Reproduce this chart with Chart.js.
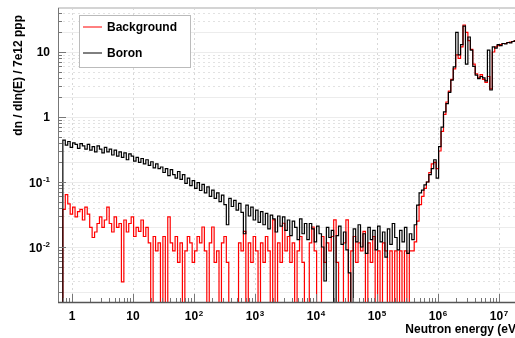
<!DOCTYPE html>
<html><head><meta charset="utf-8">
<script src="https://cdn.jsdelivr.net/npm/chart.js@4/dist/chart.umd.min.js"></script>
<style>html,body{margin:0;padding:0;overflow:hidden;background:#fff}canvas{display:block}</style>
</head><body>
<canvas id="c" width="525" height="338"></canvas>
<script>
// Histogram binning (log10 of neutron energy in eV), 25 bins per decade
const binLogStart = -0.15;
const binLogWidth = 0.04;

const seriesNames = ['Background', 'Boron'];
const seriesColors = ['#ff0000', '#000000'];

// dn/dln(E) per bin, Background (red)
const background = [
  0.038, 0.064, 0.046, 0.032, 0.041, 0.029, 0.035, 0.038, 0.026, 0.041,
  0.032, 0.020, 0.014, 0.017, 0.023, 0.029, 0.020, 0.026, 0.041, 0.023,
  0.017, 0.029, 0.020, 0.023, 0.0029, 0.026, 0.017, 0.023, 0.029, 0.0145,
  0.020, 0.0174, 0.026, 0.0145, 0.020, 0.0116, 0, 0.0145, 0.0087, 0.0116,
  0, 0.0145, 0, 0.029, 0.0116, 0.0087, 0.0145, 0.0058, 0.0116, 0,
  0.0087, 0.0145, 0.0116, 0.0058, 0.0087, 0.0145, 0.0116, 0.0203, 0.0087, 0,
  0.0116, 0.0203, 0.0058, 0.0087, 0, 0.0116, 0.0145, 0.0058, 0, 0,
  0, 0, 0.0116, 0.0087, 0.0174, 0, 0.0116, 0.0058, 0.0145, 0.0087,
  0, 0.0116, 0.0058, 0.0145, 0.0087, 0, 0.0261, 0, 0.0116, 0.0058,
  0.0232, 0.0087, 0.0145, 0.0058, 0.0116, 0, 0.0087, 0.0145, 0.0058, 0,
  0, 0.0116, 0.0203, 0.0087, 0, 0, 0.0145, 0.0058, 0.0116, 0.0087,
  0.0145, 0.0261, 0.0058, 0, 0, 0.0116, 0.0261, 0, 0.0087, 0.0145,
  0.0058, 0.0116, 0.0087, 0.0174, 0, 0.0116, 0.0058, 0.0145, 0, 0.0087,
  0, 0.0116, 0.0087, 0, 0.0087, 0, 0.0087, 0, 0.0087, 0,
  0.0087, 0, 0.0087, 0.0087,
  0.012, 0.025, 0.045, 0.06, 0.08, 0.10, 0.14, 0.19, 0.20, 0.16,
  0.30, 0.60, 1.1, 1.7, 2.5, 3.8, 5.5, 9, 8, 12,
  26, 20, 15, 11, 6.5, 4.6, 4.0, 4.5, 3.8, 3.4,
  4.2, 2.7, 10, 12, 12.5, 13, 13.5, 13.5, 14, 14.2,
  14.5, 15, 14.8, 15.2
];

// dn/dln(E) per bin, Boron (black)
const boron = [
  0.44, 0.37, 0.42, 0.34, 0.40, 0.38, 0.33, 0.39, 0.36, 0.32,
  0.38, 0.31, 0.35, 0.29, 0.36, 0.32, 0.28, 0.34, 0.29, 0.32,
  0.26, 0.31, 0.25, 0.29, 0.24, 0.28, 0.22, 0.27, 0.25, 0.21,
  0.24, 0.20, 0.23, 0.19, 0.22, 0.18, 0.205, 0.165, 0.19, 0.16,
  0.17, 0.14, 0.16, 0.125, 0.155, 0.13, 0.115, 0.145, 0.11, 0.13,
  0.095, 0.115, 0.088, 0.105, 0.08, 0.098, 0.074, 0.092, 0.068, 0.084,
  0.060, 0.075, 0.056, 0.068, 0.050, 0.063, 0.045, 0.022, 0.056, 0.042,
  0.052, 0.037, 0.047, 0.034, 0.016, 0.044, 0.030, 0.041, 0.026, 0.037,
  0.024, 0.035, 0.022, 0.033, 0.019, 0.031, 0.027, 0.017, 0.030, 0.021,
  0.029, 0.018, 0.026, 0.015, 0.025, 0.020, 0.013, 0.027, 0.016, 0.023,
  0.013, 0.023, 0.019, 0.012, 0.021, 0.016, 0.010, 0.003, 0.020, 0.014,
  0.018, 0, 0.015, 0.021, 0.011, 0.017, 0.009, 0.004, 0, 0.019,
  0.012, 0.022, 0.010, 0.016, 0.008, 0.020, 0.013, 0.018, 0.009, 0.021,
  0.012, 0.017, 0.007, 0.019, 0.011, 0.023, 0.014, 0.009, 0.018, 0.012,
  0.020, 0.008, 0.016, 0.013,
  0.022, 0.044, 0.068, 0.075, 0.090, 0.10, 0.13, 0.16, 0.22, 0.115,
  0.35, 0.7, 1.2, 1.6, 2.4, 3.7, 5.9, 20, 9, 13,
  25, 6.5, 17, 10.7, 6, 4.4, 3.9, 4.2, 4.0, 3.6,
  10.7, 2.6, 12, 11.5, 13, 12.5, 13.5, 13.3, 14, 13.8,
  14.5, 14.8, 15, 15
];

const xTickValues = [1, 10, 100, 1e3, 1e4, 1e5, 1e6, 1e7];
const xTickLabels = [['1',''],['10',''],['10','2'],['10','3'],['10','4'],['10','5'],['10','6'],['10','7']];
const yTickValues = [0.01, 0.1, 1, 10];
const yTickLabels = [['10','-2'],['10','-1'],['1',''],['10','']];
const xTitle = 'Neutron energy (eV)';
const yTitle = 'dn / dln(E) / 7e12 ppp';
const xRange = [0.5895, 2.21e7];
const yRange = [0.001425, 47.5];

const FONT = '"Liberation Sans", Arial, Helvetica, sans-serif';
const EMPTY = 1e-6; // empty bins are drawn down to the floor of the log axis

function histPoints(vals) {
  const pts = [{x: Math.pow(10, binLogStart), y: EMPTY}];
  vals.forEach((v, i) => pts.push({x: Math.pow(10, binLogStart + i * binLogWidth), y: v > 0 ? v : EMPTY}));
  const last = vals[vals.length - 1];
  pts.push({x: Math.pow(10, binLogStart + vals.length * binLogWidth), y: last > 0 ? last : EMPTY});
  return pts;
}

function logTickValues(min, max) {
  const out = [];
  for (let e = Math.floor(Math.log10(min)); e <= Math.ceil(Math.log10(max)); e++) {
    for (let m = 1; m <= 9; m++) {
      const v = m * Math.pow(10, e);
      if (v >= min && v <= max) out.push({v, m, major: m === 1});
    }
  }
  return out;
}

const rootStyle = {
  id: 'rootStyle',
  beforeDatasetsDraw(chart) {
    const {ctx, chartArea: a, scales: {x, y}} = chart;
    ctx.save();
    ctx.lineWidth = 1;
    // horizontal grid
    logTickValues(y.min, y.max).forEach(t => {
      const py = Math.round(y.getPixelForValue(t.v)) + 0.5;
      if (t.major || t.m === 2) {
        ctx.setLineDash([]);
        ctx.strokeStyle = '#ececec';
      } else {
        ctx.setLineDash([2, 3]);
        ctx.strokeStyle = '#e2e2e2';
      }
      ctx.beginPath(); ctx.moveTo(a.left, py); ctx.lineTo(a.right, py); ctx.stroke();
    });
    // vertical grid at decades
    ctx.setLineDash([2, 3]);
    ctx.strokeStyle = '#d8d8d8';
    xTickValues.forEach(v => {
      const px = Math.round(x.getPixelForValue(v)) + 0.5;
      ctx.beginPath(); ctx.moveTo(px, a.top); ctx.lineTo(px, a.bottom); ctx.stroke();
    });
    ctx.setLineDash([]);
    // top / right frame
    ctx.strokeStyle = '#d4d4d4';
    ctx.lineWidth = 2;
    ctx.beginPath(); ctx.moveTo(a.left, a.top); ctx.lineTo(a.right, a.top); ctx.lineTo(a.right, a.bottom); ctx.stroke();
    ctx.restore();
  },
  afterDatasetsDraw(chart) {
    const {ctx, chartArea: a, scales: {x, y}} = chart;
    ctx.save();
    ctx.strokeStyle = '#777';
    ctx.lineWidth = 1;
    // inside ticks, bottom axis
    logTickValues(x.min, x.max).forEach(t => {
      const px = Math.round(x.getPixelForValue(t.v)) + 0.5;
      const len = t.major ? 8 : 4;
      ctx.beginPath(); ctx.moveTo(px, a.bottom); ctx.lineTo(px, a.bottom - len); ctx.stroke();
    });
    // inside ticks, left axis
    logTickValues(y.min, y.max).forEach(t => {
      const py = Math.round(y.getPixelForValue(t.v)) + 0.5;
      const len = t.major ? 8 : 4;
      ctx.beginPath(); ctx.moveTo(a.left, py); ctx.lineTo(a.left + len, py); ctx.stroke();
    });
    // axis lines
    ctx.strokeStyle = '#777';
    ctx.beginPath(); ctx.moveTo(a.left + 0.5, a.top); ctx.lineTo(a.left + 0.5, a.bottom); ctx.stroke();
    ctx.strokeStyle = '#555';
    ctx.lineWidth = 1.5;
    ctx.beginPath(); ctx.moveTo(a.left, a.bottom + 0.5); ctx.lineTo(a.right, a.bottom + 0.5); ctx.stroke();
    ctx.restore();
  },
  afterDraw(chart) {
    const {ctx, chartArea: a, scales: {x, y}} = chart;
    ctx.save();
    ctx.fillStyle = '#000';
    ctx.textBaseline = 'alphabetic';
    const baseFont = 'bold 12px ' + FONT;
    const supFont = 'bold 8px ' + FONT;
    // y axis title (ROOT style: right-aligned near the top of the axis)
    ctx.save();
    ctx.translate(19, a.top + 7);
    ctx.rotate(-Math.PI / 2);
    ctx.font = baseFont; ctx.textAlign = 'right'; ctx.textBaseline = 'middle';
    ctx.fillText(yTitle, 0, 0);
    ctx.restore();
    ctx.textBaseline = 'alphabetic';
    // x tick labels
    xTickValues.forEach((v, i) => {
      const [b, s] = xTickLabels[i];
      const px = x.getPixelForValue(v);
      ctx.font = baseFont; const wb = ctx.measureText(b).width;
      ctx.font = supFont; const ws = s ? ctx.measureText(s).width + 0.5 : 0;
      const x0 = px - (wb + ws) / 2;
      ctx.textAlign = 'left';
      ctx.font = baseFont; ctx.fillText(b, x0, a.bottom + 18);
      if (s) { ctx.font = supFont; ctx.fillText(s, x0 + wb + 0.5, a.bottom + 13.5); }
    });
    // y tick labels
    yTickValues.forEach((v, i) => {
      const [b, s] = yTickLabels[i];
      const py = y.getPixelForValue(v);
      const right = a.left - 8;
      ctx.textAlign = 'left';
      ctx.font = supFont; const ws = s ? ctx.measureText(s).width + 0.5 : 0;
      ctx.font = baseFont; const wb = ctx.measureText(b).width;
      const x0 = right - ws - wb;
      ctx.fillText(b, x0, py + (s ? 5.5 : 4.5));
      if (s) { ctx.font = supFont; ctx.fillText(s, x0 + wb + 0.5, py + 0.5); }
    });
    // legend
    const lx = 79.5, ly = 15.5, lw = 111, lh = 52;
    ctx.fillStyle = '#fff';
    ctx.fillRect(lx, ly, lw, lh);
    ctx.strokeStyle = '#bbb'; ctx.lineWidth = 1;
    ctx.strokeRect(lx, ly, lw, lh);
    const rows = [27, 53];
    chart.data.datasets.forEach((ds, i) => {
      ctx.strokeStyle = ds.borderColor; ctx.lineWidth = 1;
      ctx.beginPath(); ctx.moveTo(83, rows[i]); ctx.lineTo(102, rows[i]); ctx.stroke();
      ctx.fillStyle = '#000'; ctx.font = baseFont; ctx.textAlign = 'left';
      ctx.fillText(ds.label, 107, rows[i] + 4);
    });
    ctx.restore();
  }
};

new Chart(document.getElementById('c').getContext('2d'), {
  type: 'line',
  data: {
    datasets: [
      {label: seriesNames[0], data: histPoints(background), borderColor: seriesColors[0], borderWidth: 1.2,
       stepped: 'before', pointRadius: 0, fill: false, order: 1},
      {label: seriesNames[1], data: histPoints(boron), borderColor: seriesColors[1], borderWidth: 1.2,
       stepped: 'before', pointRadius: 0, fill: false, order: 0}
    ]
  },
  options: {
    responsive: false,
    animation: false,
    devicePixelRatio: 1,
    layout: {padding: {left: 0, top: 8, right: 5, bottom: 0}},
    plugins: {legend: {display: false}, tooltip: {enabled: false}},
    scales: {
      x: {
        type: 'logarithmic', position: 'bottom', min: xRange[0], max: xRange[1],
        grid: {display: false}, border: {display: false}, ticks: {display: false},
        title: {display: true, text: xTitle, align: 'end', color: '#000',
                font: {family: FONT, size: 12, weight: 'bold'}, padding: {top: 0, bottom: 1}},
        afterFit(s) { s.height = 36; }
      },
      y: {
        type: 'logarithmic', position: 'left', min: yRange[0], max: yRange[1],
        grid: {display: false}, border: {display: false}, ticks: {display: false},
        title: {display: false, text: yTitle},
        afterFit(s) { s.width = 58; }
      }
    }
  },
  plugins: [rootStyle]
});
</script>
</body></html>
